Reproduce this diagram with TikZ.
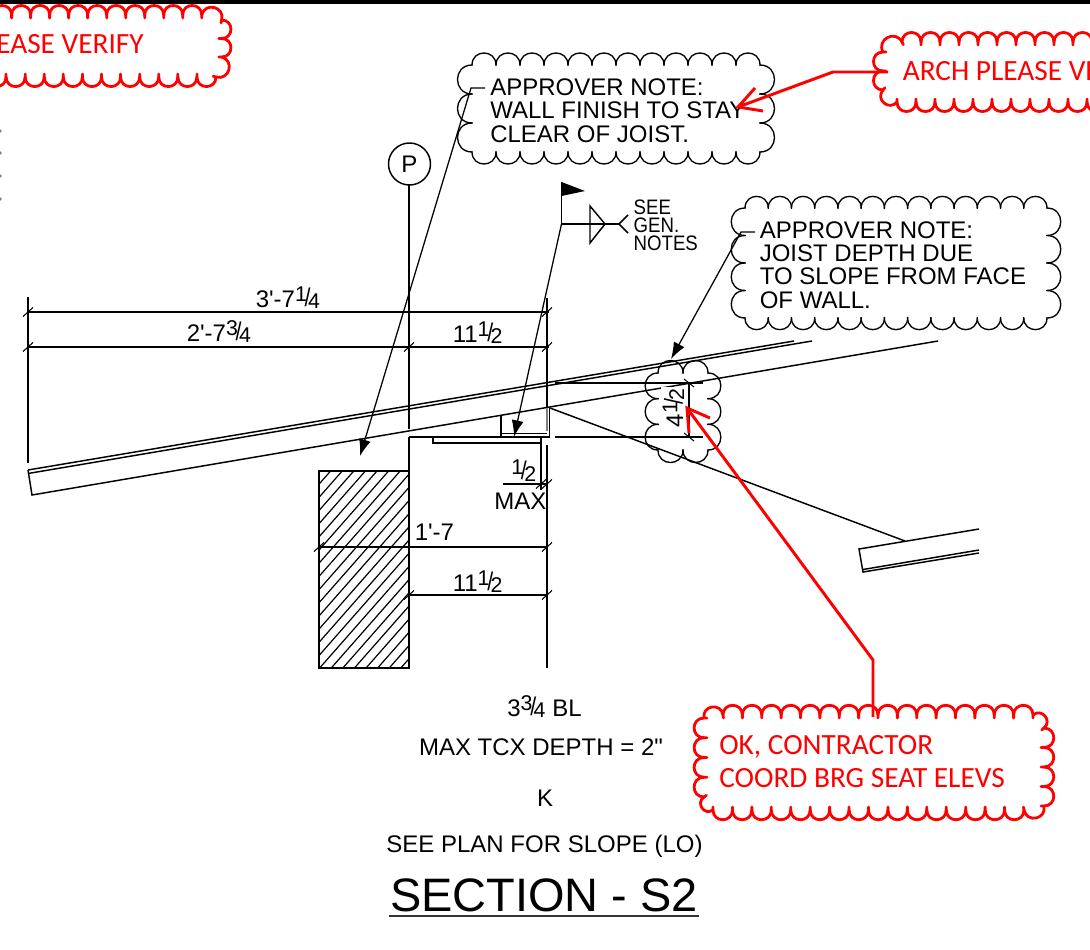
\documentclass[tikz,border=0pt]{standalone}
\usepackage{fontspec}
\setmainfont{Liberation Sans}[Ligatures=TeXOff]
\newfontfamily\redfont{Carlito}
\usetikzlibrary{arrows.meta}
\newcommand\fr[2]{{\fontsize{16}{16}\selectfont\raisebox{4.2pt}{#1}\kern-1.7pt\raisebox{0.3pt}{\scalebox{1}[1.2]{/}}\kern-1.9pt\raisebox{-0.75pt}{#2}}}
\newcommand\clstyle{blackcloud}
\newcommand\clhook{0.5}
% run of outward semicircular scallops from (#1,#2) to (#3,#4), #5 arcs, traversed clockwise on the page
\newcommand\scrun[5]{%
  \foreach \i in {1,...,#5}{%
    \pgfmathsetmacro\ax{#1+(\i-1)*(#3-#1)/#5}%
    \pgfmathsetmacro\ay{#2+(\i-1)*(#4-#2)/#5}%
    \pgfmathsetmacro\bx{#1+\i*(#3-#1)/#5}%
    \pgfmathsetmacro\by{#2+\i*(#4-#2)/#5}%
    \pgfmathsetmacro\dx{\bx-\ax}%
    \pgfmathsetmacro\dy{\by-\ay}%
    \pgfmathsetmacro\len{veclen(\dx,\dy)}%
    \draw[\clstyle] (\ax,\ay) .. controls ({\ax+0.667*\dy},{\ay-0.667*\dx}) and ({\bx+0.667*\dy},{\by-0.667*\dx}) .. (\bx,\by) -- ({\bx-\clhook*\dy/\len},{\by+\clhook*\dx/\len});
  }%
}
\tikzset{
  line/.style={draw=black,line width=1.1pt},
  thin line/.style={draw=black,line width=0.9pt},
  blackcloud/.style={draw=black,line width=1pt,line cap=round},
  redcloud/.style={draw=red,line width=2.1pt,line cap=round},
  redline/.style={draw=red,line width=2.2pt},
  leader/.style={draw=black,line width=0.95pt,-{Latex[length=12.5pt,width=9pt]}},
  txt/.style={font=\fontsize{18}{17.5}\selectfont,inner sep=0pt,anchor=base west,align=left},
  ctxt/.style={font=\fontsize{18}{17.5}\selectfont,inner sep=0pt,anchor=base},
  redtxt/.style={font=\redfont\fontsize{22}{24.75}\selectfont,text=red,inner sep=0pt,anchor=base west,align=left},
  tick/.style={draw=black,line width=0.8pt},
}
\newcommand\tk[2]{\draw[tick] ({#1-5},{#2+4.5}) -- ({#1+5},{#2-4.5});}
\begin{document}
\begin{tikzpicture}[x=0.75pt,y=-0.75pt]
\useasboundingbox (0,0) rectangle (1090,950);
\clip (0,0) rectangle (1090,950);
\fill[white] (0,0) rectangle (1090,950);
\foreach \yy in {131,153,176,199}{\fill[gray] (0,\yy) circle (1.8);}

% joist
\draw[line] (28,470) -- (794,341);
\draw[line] (28,473.5) -- (812,341);
\draw[line] (28,470) -- (32,495) -- (938,341);
% lower joist
\draw[line] (979,529) -- (859,549) -- (863,572) -- (979,553);
\draw[line] (863,569.5) -- (979,550);
\draw[line] (550,408) -- (905,541);

% wall
\begin{scope}
\clip (319,471) rectangle (409,668);
\foreach \k in {0,...,30}{\draw[thin line] ({319+\k*11.6},471) -- ({319+\k*11.6-200*0.88},671);}
\end{scope}
\draw[line] (319,471) rectangle (409,668);

% building lines
\draw[line] (28,297) -- (28,463);
\draw[line] (547,298) -- (547,408);
\draw[line] (547,445) -- (547,668);
\draw[thin line,draw=gray] (547,408) -- (547,431);
\draw[line] (409,185) -- (409,429);
\draw[line] (409,437) -- (409,471);
\draw[line] (409,437) -- (549.5,437);
\draw[line] (549.5,408) -- (549.5,437);
\draw[line] (501,415) -- (501,437);
\draw[thin line] (501,433.5) -- (547,433.5);
\draw[line] (433,437) -- (433,443) -- (541,443) -- (541,437);
\draw[line] (541,443) -- (541,490);

% small cloud
\scrun{658}{373}{708}{373}{2}
\scrun{708}{373}{708}{450}{3}
\scrun{708}{450}{658}{450}{2}
\scrun{658}{450}{658}{373}{3}

\node[ctxt,rotate=90,fill=white,inner sep=1.5pt] (dimd) at (683,408) {4\fr{1}{2}};

% dimensions
\draw[line] (28,312) -- (549,312); \tk{28}{312}\tk{547}{312}
\draw[line] (28,347) -- (549,347); \tk{28}{347}\tk{409}{347}\tk{547}{347}
\draw[line] (319,547) -- (547,547); \tk{319}{547}\tk{547}{547}
\draw[line] (409,595) -- (547,595); \tk{409}{595}\tk{547}{595}
\draw[line] (503,484) -- (547,484); \tk{541}{484}\tk{547}{484}
\draw[line] (555,383) -- (703,383);
\draw[line] (555,437) -- (703,437);
\draw[line] (689,383) -- (689,437);
\draw[tick] (684,379) -- (694,387);
\draw[tick] (684,433) -- (694,441);

% dimension labels
\node[txt] (d1) at (255.5,307) {3'-7\fr{1}{4}};
\node[txt] (d2) at (186.5,341) {2'-7\fr{3}{4}};
\node[txt] (d3) at (452.5,342) {11\fr{1}{2}};
\node[txt] (d4) at (511,480) {\fr{1}{2}};
\node[txt] (d5) at (494,509) {MAX};
\node[txt] (d6) at (414.5,540) {1'-7};
\node[txt] (d7) at (452.5,591) {11\fr{1}{2}};

% column line P
\node[draw=black,line width=1.1pt,circle,minimum size=31.5pt,inner sep=0pt,font=\fontsize{18}{18}\selectfont] (p) at (409.5,164) {P};

% weld symbol
\coordinate (flagbase) at (561.5,224);
\coordinate (flagtop) at (561.5,182);
\fill[black] (flagtop) -- (585,191) -- (561.5,196) -- cycle;
\draw[line] (flagtop) -- (flagbase) -- (619,224);
\draw[line] (590,206) -- (605,224) -- (590,243) -- cycle;
\draw[line] (628,215) -- (619,224) -- (628,233);
\node[txt,font=\fontsize{15.7}{13.5}\selectfont,xscale=0.89] (see) at (633.5,250) {SEE\\GEN.\\NOTES};

% note clouds
\scrun{472}{65}{760}{65}{12}
\scrun{760}{65}{760}{152}{3}
\scrun{760}{152}{472}{152}{12}
\scrun{472}{152}{472}{65}{3}
\node[txt] (n1) at (490,142) {APPROVER NOTE:\\WALL FINISH TO STAY\\CLEAR OF JOIST.};

\scrun{745}{208}{1047}{208}{13}
\scrun{1047}{208}{1047}{318}{4}
\scrun{1047}{318}{745}{318}{13}
\scrun{745}{318}{745}{208}{4}
\node[txt] (n2) at (759.5,308) {APPROVER NOTE:\\JOIST DEPTH DUE\\TO SLOPE FROM FACE\\OF WALL.};

% leaders
\coordinate (n1a) at (485,88);
\coordinate (n1b) at (471,88);
\coordinate (walltip) at (360,456);
\draw[leader] (n1a) -- (n1b) -- (walltip);
\coordinate (n2a) at (755,232);
\coordinate (n2b) at (741,232);
\coordinate (cloudtip) at (671,359);
\draw[leader] (n2a) -- (n2b) -- (cloudtip);
\coordinate (seattip) at (514,437);
\draw[leader] (flagbase) -- (seattip);

% bottom text
\node[ctxt] (b1) at (544.5,716) {3\fr{3}{4} BL};
\node[ctxt] (b2) at (541,755) {MAX TCX DEPTH = 2"};
\node[ctxt] (b3) at (545,806) {K};
\node[ctxt] (b4) at (544.5,852) {SEE PLAN FOR SLOPE (LO)};
\node[ctxt,font=\fontsize{35.2}{36}\selectfont] (title) at (544,911) {SECTION - S2};
\draw[draw=black!80,line width=1.3pt] (389,916) -- (699,916);

% red clouds
\renewcommand\clstyle{redcloud}
\renewcommand\clhook{3}
\scrun{-7.4}{15}{201.7}{15}{11}
\scrun{201.7}{15}{221.7}{20}{1}
\scrun{221.7}{20}{221.7}{57}{2}
\scrun{221.7}{57}{216}{77}{1}
\scrun{216}{77}{-13}{77}{12}
\node[redtxt,anchor=base east] (r1) at (144,53) {PLEASE VERIFY};
\fill[black] (0,0) rectangle (1090,4.3);

\scrun{883}{52}{902}{42}{1}
\scrun{902}{42}{1092}{42}{10}
\scrun{1106}{102}{897}{102}{11}
\scrun{897}{102}{883}{90}{1}
\scrun{883}{90}{883}{52}{2}
\node[redtxt] (r2) at (902.5,80) {ARCH PLEASE VERIFY};

\scrun{704}{718}{723}{715}{1}
\scrun{723}{715}{1033}{715}{16}
\scrun{1033}{715}{1044}{728}{1}
\scrun{1044}{728}{1044}{806}{4}
\scrun{1044}{806}{1024}{810}{1}
\scrun{1024}{810}{713}{810}{16}
\scrun{713}{810}{704}{797}{1}
\scrun{704}{797}{704}{718}{4}
\node[redtxt] (r3) at (719,787) {OK, CONTRACTOR\\COORD BRG SEAT ELEVS};

% red arrows
\coordinate (ra) at (888,72);
\coordinate (rb) at (833,72);
\coordinate (rtip) at (738,107);
\coordinate (rb1) at (755,88);
\coordinate (rb2) at (763,111);
\draw[redline] (ra) -- (rb) -- (rtip);
\draw[redline] (rb1) -- (rtip) -- (rb2);
\coordinate (sa) at (873,717);
\coordinate (sb) at (873,660);
\coordinate (stip) at (687,408);
\coordinate (sb1) at (710,418);
\coordinate (sb2) at (689,433);
\draw[redline] (sa) -- (sb) -- (stip);
\draw[redline] (sb1) -- (stip) -- (sb2);
\end{tikzpicture}
\end{document}
